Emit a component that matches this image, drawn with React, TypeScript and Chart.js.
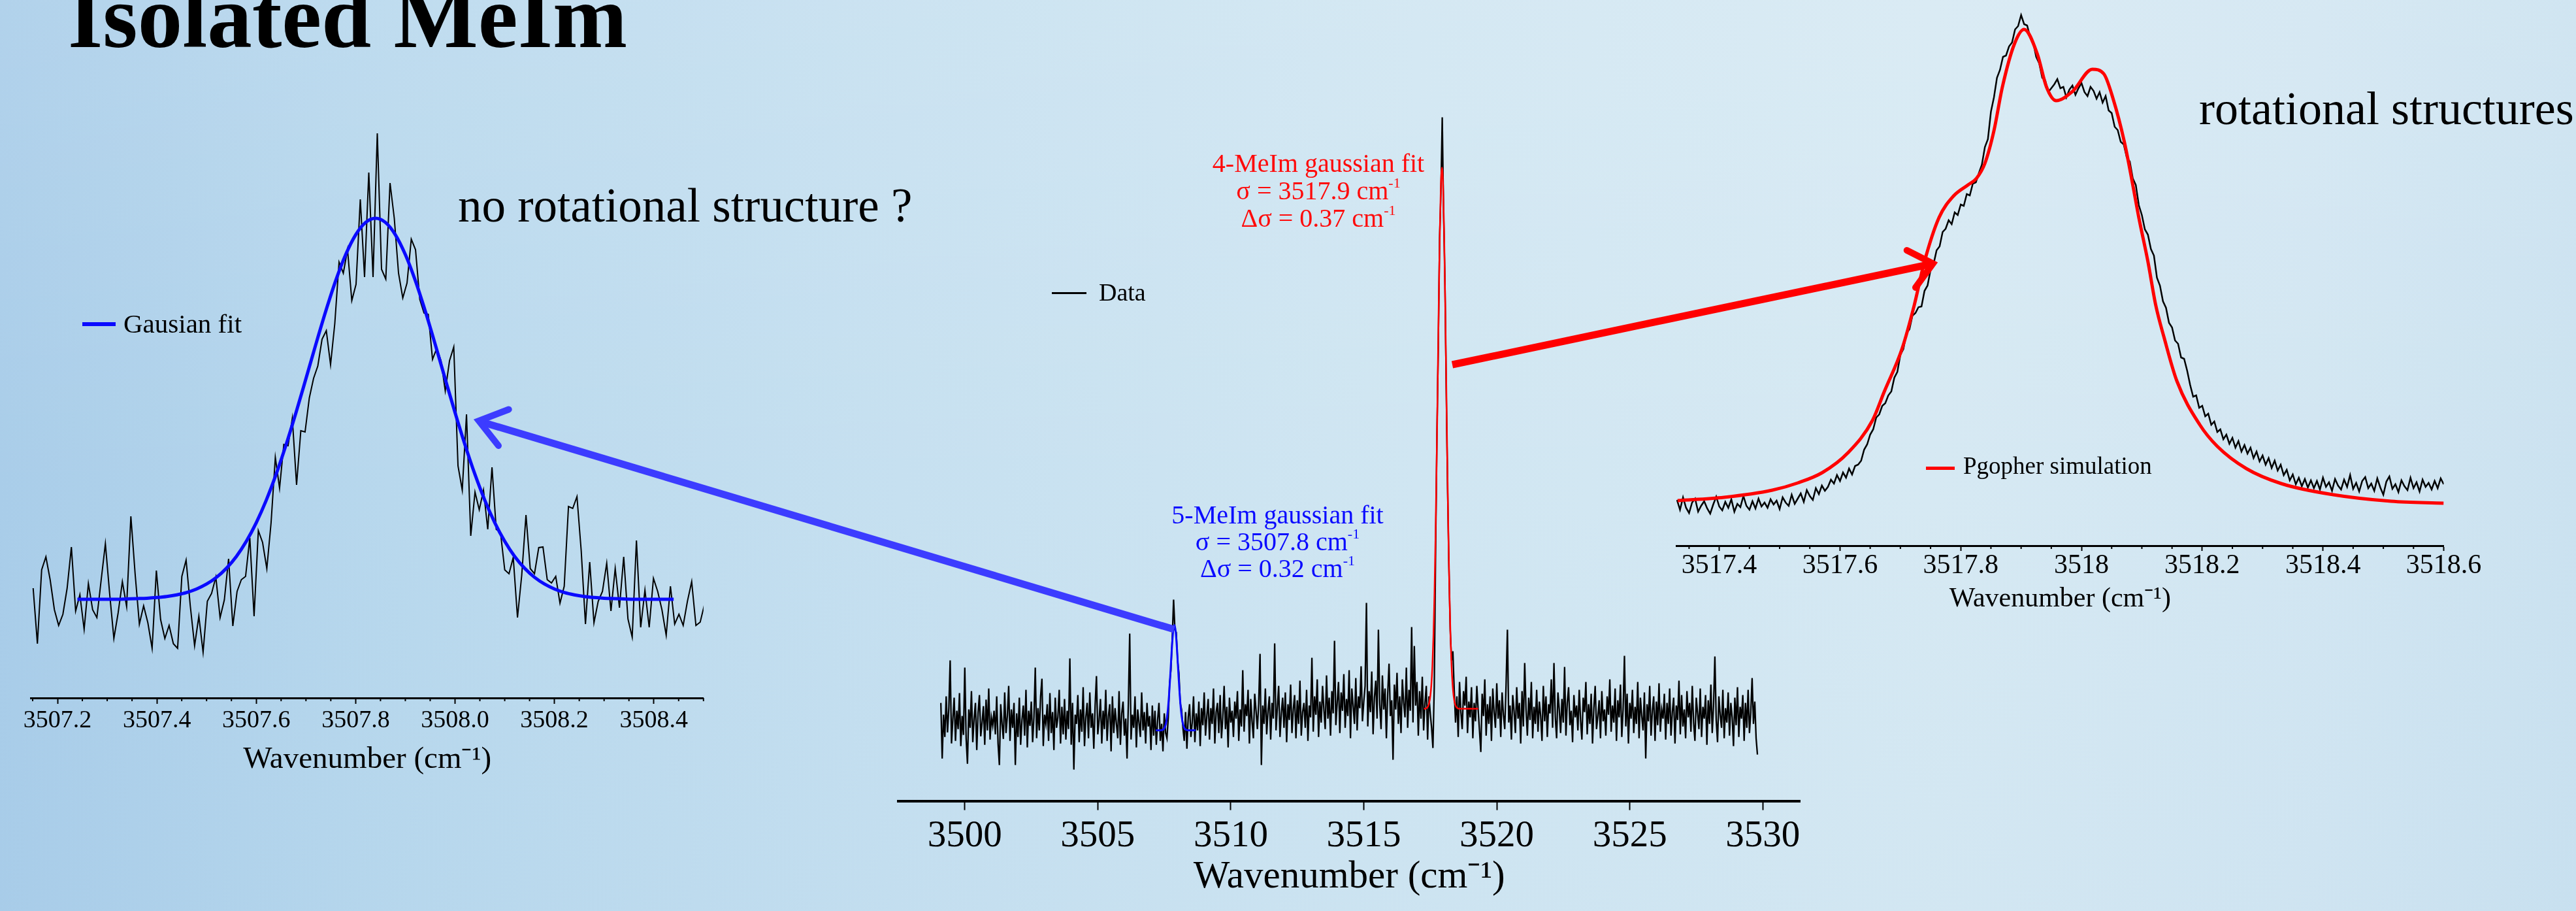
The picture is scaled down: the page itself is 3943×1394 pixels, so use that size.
import React, { useEffect, useRef } from 'react';
import { Chart, registerables } from 'chart.js';

Chart.register(...registerables);

const PAGE_W = 3943;
const PAGE_H = 1394;

// ---------------- left panel (5-MeIm zoom) ----------------
const LEFT_DATA_START = 3507.151;
const LEFT_DATA_STEP = 0.00855;
const LEFT_DATA = [
  168, 83, 196, 216, 181, 135, 111, 128, 168, 231, 133, 158, 105, 175, 135, 123, 180, 236, 160, 91,
  130, 178, 140, 278, 190, 113, 141, 115, 76, 195, 120, 91, 111, 83, 76, 186, 211, 140, 80, 125,
  70, 148, 160, 185, 123, 150, 213, 110, 163, 181, 186, 245, 125, 256, 238, 198, 268, 368,
  321, 388, 386, 428, 326, 409, 407, 459, 489, 508, 549, 562, 510, 573, 667, 650, 686, 608, 633, 763,
  644, 804, 644, 864, 656, 641, 788, 734, 650, 612, 635, 702, 686, 610, 589, 587, 518, 535, 516, 470,
  516, 537, 355,
  318, 434, 248, 315, 288, 318, 258, 353, 258, 253, 196, 190, 215, 123, 188, 280, 198, 190, 230, 231,
  181, 176, 186, 145, 171, 293, 290, 308, 225, 113, 208, 115, 148, 163, 206, 133, 198, 138, 216, 121,
  93, 241, 108, 165, 108, 183, 163, 135, 96, 171, 113, 128, 111, 148, 178, 111, 116, 143,
];
const LEFT_FIT_START = 3507.24;
const LEFT_FIT_STEP = 0.02;
const LEFT_FIT = [
  151, 151, 151, 151, 151,
  151.5, 152, 152.6, 153.7, 155.3, 157.8, 161.4, 166.8, 174.3, 184.6, 198.5, 216.6, 239.7, 268.2, 302.4,
  342.3, 387.5, 436.7, 488.7, 541.4, 592.2, 638.8, 678.4, 708.6, 727.6,
  734,
  727.6, 708.6, 678.4, 638.8, 592.2, 541.4, 488.7, 436.7, 387.5, 342.3, 302.4, 268.2, 239.7, 216.6, 198.5,
  184.6, 174.3, 166.8, 161.4, 157.8, 155.3, 153.7, 152.6, 152, 151.5,
  151, 151, 151, 151, 151,
];
const LEFT_TICKS = [3507.2, 3507.4, 3507.6, 3507.8, 3508.0, 3508.2, 3508.4];
const LEFT_TICK_LABELS = ['3507.2', '3507.4', '3507.6', '3507.8', '3508.0', '3508.2', '3508.4'];
const LEFT_MINOR = [
  3507.15, 3507.25, 3507.3, 3507.35, 3507.45, 3507.5, 3507.55, 3507.65, 3507.7, 3507.75, 3507.85,
  3507.9, 3507.95, 3508.05, 3508.1, 3508.15, 3508.25, 3508.3, 3508.35, 3508.45, 3508.5,
];

// ---------------- middle panel (full scan) ----------------
const MID_DATA_START = 3499.1;
const MID_DATA_STEP = 0.05;
const MID_DATA = [
  150, 65, 132, 98, 160, 105, 142, 215, 88, 125, 158, 92, 138, 110, 165, 84, 130, 101, 204, 96,
  57, 140, 112, 168, 90, 126, 150, 78, 135, 162, 99, 120, 145, 86, 155, 108, 172, 94, 128, 115,
  138, 102, 160, 88, 55, 148, 118, 95, 166, 104, 130, 176, 92, 140, 112, 150, 55, 134, 98, 158,
  86, 124, 146, 100, 170, 82, 138, 115, 152, 90, 128, 204, 96, 142, 108, 160, 187, 84, 132, 118,
  148, 92, 165, 104, 136, 78, 158, 112, 128, 170, 88, 144, 102, 156, 94, 138, 110, 218, 86, 150,
  48, 132, 118, 162, 90, 140, 106, 174, 84, 128, 150, 96, 166, 112, 134, 80, 146, 191, 102, 124,
  156, 88, 138, 110, 170, 92, 130, 148, 76, 160, 104, 142, 118, 96, 168, 86, 134, 152, 100, 126,
  65, 150, 256, 94, 132, 112, 160, 82, 140, 120, 98, 166, 108, 136, 88, 150, 114, 130, 78, 146,
  100, 138, 86, 124, 150, 92, 118, 76, 134, 104, 96, 128, 180, 200, 250, 308, 262, 258, 215, 196,
  150, 140, 112, 92, 136, 80, 128, 148, 98, 120, 160, 90, 134, 108, 152, 84, 142, 116, 166, 100,
  130, 156, 94, 142, 118, 172, 88, 136, 150, 104, 162, 96, 128, 176, 110, 144, 82, 158, 120, 138,
  98, 152, 126, 168, 92, 140, 114, 200, 106, 148, 130, 170, 88, 156, 122, 96, 164, 138, 110, 150,
  225, 55, 146, 118, 172, 102, 138, 160, 94, 150, 126, 241, 108, 142, 176, 98, 134, 158, 112, 166,
  90, 148, 124, 178, 104, 140, 162, 96, 154, 118, 184, 100, 136, 150, 112, 170, 92, 146, 128, 219,
  106, 160, 132, 186, 98, 152, 120, 176, 140, 110, 192, 126, 158, 100, 168, 134, 245, 116, 150, 182,
  104, 166, 138, 194, 112, 156, 130, 200, 96, 172, 146, 118, 188, 108, 160, 142, 206, 122, 152, 176,
  303, 114, 168, 136, 198, 102, 158, 184, 126, 262, 148, 110, 192, 140, 172, 96, 164, 210, 130, 154,
  63, 178, 140, 196, 118, 160, 104, 186, 150, 128, 204, 112, 170, 138, 266, 120, 237, 146, 182, 100,
  168, 126, 190, 108, 150, 176, 94, 160, 134, 112, 81, 175, 380, 560, 690, 860, 930, 1046, 900, 800,
  630, 480, 360, 262, 215, 229, 170, 120, 160, 98, 182, 136, 110, 168, 146, 190, 104, 152, 128, 174,
  96, 150, 122, 176, 140, 108, 75, 164, 130, 186, 100, 148, 118, 160, 92, 172, 136, 112, 180, 126,
  154, 98, 166, 132, 110, 178, 262, 120, 146, 94, 162, 138, 104, 174, 126, 150, 88, 168, 114, 211,
  140, 100, 158, 124, 182, 96, 144, 118, 170, 106, 152, 130, 92, 176, 122, 160, 98, 148, 134, 186,
  112, 211, 128, 96, 166, 140, 104, 156, 120, 205, 100, 150, 174, 116, 138, 90, 162, 128, 146, 108,
  170, 124, 94, 158, 136, 182, 102, 148, 118, 164, 88, 142, 176, 110, 130, 154, 96, 168, 122, 140,
  100, 160, 132, 186, 106, 146, 120, 172, 92, 154, 128, 178, 98, 140, 222, 114, 164, 88, 150, 126,
  170, 104, 144, 118, 182, 96, 158, 130, 108, 166, 65, 148, 122, 176, 100, 138, 160, 92, 152, 116,
  180, 106, 140, 126, 164, 94, 150, 118, 172, 100, 136, 158, 88, 146, 124, 184, 102, 162, 114, 140,
  96, 168, 128, 150, 106, 176, 120, 92, 158, 134, 110, 172, 98, 144, 126, 162, 86, 154, 118, 178,
  104, 146, 221, 124, 90, 160, 132, 112, 170, 96, 142, 120, 166, 100, 150, 128, 84, 158, 116, 174,
  98, 144, 126, 162, 92, 150, 112, 170, 104, 136, 188, 118, 152, 96, 71,
];
const MID_BLUE_START = 3507.18;
const MID_BLUE_STEP = 0.05;
const MID_BLUE_FIT = [
  108, 108, 108, 108,
  108.2, 108.7, 110.1, 113.9, 122.2, 137.7, 162.6, 195.6, 230.9, 258.5,
  269,
  258.5, 230.9, 195.6, 162.6, 137.7, 122.2, 113.9, 110.1, 108.7, 108.2, 108, 108, 108, 108, 108, 108,
];
const MID_RED_START = 3517.26;
const MID_RED_STEP = 0.04;
const MID_RED_FIT = [
  141, 141, 141.8, 142.8, 145.2, 150.2, 159.9, 177.4, 206.9, 253, 320.1, 409.8, 520, 643.2, 766, 871.7, 943.5,
  969,
  943.5, 871.7, 766, 643.2, 520, 409.8, 320.1, 253, 206.9, 177.4, 159.9, 150.2, 145.2, 142.8, 141.8,
  141, 141, 141, 141, 141, 141, 141, 141, 141, 141, 141, 141, 141, 141, 141, 141, 141, 141, 141,
];
const MID_TICKS = [3500, 3505, 3510, 3515, 3520, 3525, 3530];
const MID_TICK_LABELS = ['3500', '3505', '3510', '3515', '3520', '3525', '3530'];

// ---------------- right panel (4-MeIm zoom) ----------------
const RIGHT_DATA_START = 3517.33;
const RIGHT_DATA_STEP = 0.005;
const RIGHT_DATA = [
  70, 55, 74, 58, 50, 66, 72, 52, 61, 68,
  57, 49, 63, 75, 60, 54, 67, 58, 71, 52,
  64, 59, 76, 61, 55, 68, 57, 72, 60, 66,
  58, 71, 63, 69, 56, 74, 66, 61, 78, 64,
  72, 80, 67, 85, 76, 70, 88, 79, 92, 84,
  90, 101, 95, 108, 99, 112, 104, 118, 109, 122,
  124, 130, 147, 155, 170, 178, 196, 201, 214, 218,
  230, 236, 257, 266, 292, 301, 325, 331, 352, 356,
  365, 366, 390, 398, 422, 431, 452, 458, 480, 485,
  498, 492, 510, 506, 522, 520, 538, 536, 554, 556,
  570, 583, 610, 622, 664, 686, 716, 728, 748, 750,
  764, 770, 790, 795, 812, 798, 796, 778, 770, 748,
  738, 716, 712, 694, 700, 706, 714, 700, 702, 686,
  698, 704, 690, 700, 708, 694, 688, 702, 696, 684,
  694, 678, 688, 666, 662, 641, 636, 618, 614, 594,
  588, 562, 552, 521, 506, 484, 476, 454, 444, 410,
  398, 374, 364, 341, 334, 314, 309, 288, 286, 268,
  246, 228, 230, 211, 214, 198, 202, 185, 190, 174,
  178, 163, 170, 156, 165, 150, 160, 144, 154, 141,
  150, 134, 144, 129, 138, 124, 134, 119, 130, 115,
  124, 108, 116, 100, 109, 94, 104, 91, 102, 89,
  100, 88, 99, 86, 104, 90, 97, 84, 102, 92,
  86, 101, 90, 108, 87, 96, 83, 99, 105, 88,
  95, 84, 103, 89, 78, 98, 106, 87, 94, 82,
  100, 91, 85, 104, 88, 97, 83, 101, 90, 96,
  86, 99, 88, 103, 94,
];
const RIGHT_SIM_X = [
  3517.331, 3517.408, 3517.488, 3517.53, 3517.571, 3517.613, 3517.654, 3517.673, 3517.703, 3517.723,
  3517.74, 3517.764, 3517.788, 3517.812, 3517.826, 3517.84, 3517.855, 3517.869, 3517.889, 3517.905,
  3517.927, 3517.942, 3517.958, 3517.985, 3518.018, 3518.037, 3518.052, 3518.071, 3518.085, 3518.095,
  3518.11, 3518.123, 3518.137, 3518.158, 3518.196, 3518.225, 3518.273, 3518.331, 3518.417, 3518.513,
  3518.6,
];
const RIGHT_SIM_Y = [
  69, 74, 85, 96, 112, 142, 192, 235, 302, 368,
  435, 502, 535, 552, 562, 585, 635, 702, 768, 790,
  752, 702, 681, 695, 729, 722, 685, 618, 552, 502,
  435, 368, 318, 252, 185, 152, 118, 95, 78, 68,
  65,
];
const RIGHT_TICKS = [3517.4, 3517.6, 3517.8, 3518.0, 3518.2, 3518.4, 3518.6];
const RIGHT_TICK_LABELS = ['3517.4', '3517.6', '3517.8', '3518', '3518.2', '3518.4', '3518.6'];
const RIGHT_MINOR = [
  3517.35, 3517.45, 3517.5, 3517.55, 3517.65, 3517.7, 3517.75, 3517.85, 3517.9, 3517.95,
  3518.05, 3518.1, 3518.15, 3518.25, 3518.3, 3518.35, 3518.45, 3518.5, 3518.55,
];

const SERIF = '"Liberation Serif", "Times New Roman", serif';
const AXIS_TITLE = 'Wavenumber (cm\u207B\u00B9)';

function gridded(start: number, step: number, ys: number[]) {
  return ys.map((y, i) => ({ x: start + i * step, y }));
}
function paired(xs: number[], ys: number[]) {
  return xs.map((x, i) => ({ x, y: ys[i] }));
}

const minorTicksPlugin = {
  id: 'minorTicks',
  afterDraw(chart: any, _args: any, opts: any) {
    const vals: number[] = opts && opts.values ? opts.values : [];
    if (!vals.length) return;
    const s = chart.scales.x;
    const ctx = chart.ctx;
    ctx.save();
    ctx.strokeStyle = '#000';
    ctx.lineWidth = opts.width || 2;
    ctx.beginPath();
    for (const v of vals) {
      const px = s.getPixelForValue(v);
      ctx.moveTo(px, s.top);
      ctx.lineTo(px, s.top + opts.length);
    }
    ctx.stroke();
    ctx.restore();
  },
};

interface PanelSpec {
  left: number;
  right: number;
  axisY: number;
  axisBox: number;
  xMin: number;
  xMax: number;
  ticks: number[];
  tickLabels: string[];
  minor: number[];
  minorLen: number;
  tickLen: number;
  tickPad: number;
  tickFont: number;
  titleFont: number;
  axisWidth: number;
  tickWidth: number;
  datasets: any[];
}

function buildConfig(p: PanelSpec): any {
  return {
    type: 'line',
    data: { datasets: p.datasets },
    options: {
      responsive: false,
      animation: false,
      devicePixelRatio: 1,
      events: [],
      layout: {
        padding: {
          left: p.left,
          right: PAGE_W - p.right,
          top: 0,
          bottom: PAGE_H - p.axisY - p.axisBox,
        },
      },
      elements: { point: { radius: 0 } },
      plugins: {
        legend: { display: false },
        tooltip: { enabled: false },
        minorTicks: { values: p.minor, length: p.minorLen, width: p.tickWidth },
      },
      scales: {
        x: {
          type: 'linear',
          min: p.xMin,
          max: p.xMax,
          afterBuildTicks: (s: any) => {
            s.ticks = p.ticks.map((v) => ({ value: v }));
          },
          afterFit: (s: any) => {
            s.height = p.axisBox;
          },
          ticks: {
            autoSkip: false,
            maxRotation: 0,
            minRotation: 0,
            includeBounds: false,
            padding: p.tickPad,
            color: '#000',
            font: { family: SERIF, size: p.tickFont },
            callback: (_v: any, i: number) => p.tickLabels[i],
          },
          grid: {
            display: true,
            drawOnChartArea: false,
            drawTicks: true,
            tickLength: p.tickLen,
            tickWidth: p.tickWidth,
            tickColor: '#000',
          },
          border: { display: true, color: '#000', width: p.axisWidth },
          title: {
            display: true,
            text: AXIS_TITLE,
            color: '#000',
            font: { family: SERIF, size: p.titleFont },
            padding: { top: 0, bottom: 0 },
          },
        },
        y: { type: 'linear', display: false, min: 0, max: p.axisY },
      },
    },
    plugins: [minorTicksPlugin],
  };
}

const LEFT_SPEC: PanelSpec = {
  left: 47.7,
  right: 1076.8,
  axisY: 1068,
  axisBox: 123,
  xMin: 3507.147,
  xMax: 3508.5,
  ticks: LEFT_TICKS,
  tickLabels: LEFT_TICK_LABELS,
  minor: LEFT_MINOR,
  minorLen: 5,
  tickLen: 9,
  tickPad: 3,
  tickFont: 38,
  titleFont: 47,
  axisWidth: 3,
  tickWidth: 2,
  datasets: [
    {
      label: 'Gausian fit',
      data: gridded(LEFT_FIT_START, LEFT_FIT_STEP, LEFT_FIT),
      borderColor: '#0a0aff',
      borderWidth: 5,
      cubicInterpolationMode: 'monotone',
      order: 0,
    },
    {
      label: 'Data',
      data: gridded(LEFT_DATA_START, LEFT_DATA_STEP, LEFT_DATA),
      borderColor: '#000',
      borderWidth: 2,
      tension: 0,
      order: 1,
    },
  ],
};

const MID_SPEC: PanelSpec = {
  left: 1375,
  right: 2755.6,
  axisY: 1225.6,
  axisBox: 152,
  xMin: 3497.5,
  xMax: 3531.41,
  ticks: MID_TICKS,
  tickLabels: MID_TICK_LABELS,
  minor: [],
  minorLen: 0,
  tickLen: 14,
  tickPad: 6,
  tickFont: 57,
  titleFont: 59,
  axisWidth: 4,
  tickWidth: 2,
  datasets: [
    {
      label: '5-MeIm gaussian fit',
      data: gridded(MID_BLUE_START, MID_BLUE_STEP, MID_BLUE_FIT),
      borderColor: '#0a0aff',
      borderWidth: 3,
      cubicInterpolationMode: 'monotone',
      order: 0,
    },
    {
      label: '4-MeIm gaussian fit',
      data: gridded(MID_RED_START, MID_RED_STEP, MID_RED_FIT),
      borderColor: '#ff0000',
      borderWidth: 2.5,
      cubicInterpolationMode: 'monotone',
      order: 0,
    },
    {
      label: 'Data',
      data: gridded(MID_DATA_START, MID_DATA_STEP, MID_DATA),
      borderColor: '#000',
      borderWidth: 2.3,
      tension: 0,
      order: 1,
    },
  ],
};

const RIGHT_SPEC: PanelSpec = {
  left: 2566,
  right: 3740.5,
  axisY: 835,
  axisBox: 107,
  xMin: 3517.329,
  xMax: 3518.6,
  ticks: RIGHT_TICKS,
  tickLabels: RIGHT_TICK_LABELS,
  minor: RIGHT_MINOR,
  minorLen: 5,
  tickLen: 8,
  tickPad: -2,
  tickFont: 42,
  titleFont: 42,
  axisWidth: 3,
  tickWidth: 2,
  datasets: [
    {
      label: 'Pgopher simulation',
      data: paired(RIGHT_SIM_X, RIGHT_SIM_Y),
      borderColor: '#ff0000',
      borderWidth: 5,
      cubicInterpolationMode: 'monotone',
      order: 0,
    },
    {
      label: 'Data',
      data: gridded(RIGHT_DATA_START, RIGHT_DATA_STEP, RIGHT_DATA),
      borderColor: '#000',
      borderWidth: 2.5,
      tension: 0,
      order: 1,
    },
  ],
};

function Panel({ spec }: { spec: PanelSpec }) {
  const ref = useRef<HTMLCanvasElement | null>(null);
  useEffect(() => {
    if (!ref.current) return;
    const chart = new Chart(ref.current, buildConfig(spec));
    return () => chart.destroy();
  }, [spec]);
  return (
    <canvas
      ref={ref}
      width={PAGE_W}
      height={PAGE_H}
      style={{ position: 'absolute', left: 0, top: 0, width: PAGE_W, height: PAGE_H }}
    />
  );
}

const sup = (t: string) => (
  <span style={{ fontSize: '0.55em', verticalAlign: '0.8em', lineHeight: 0 }}>{t}</span>
);

function Text(props: {
  left: number;
  top: number;
  size: number;
  color?: string;
  bold?: boolean;
  children: React.ReactNode;
}) {
  return (
    <div
      style={{
        position: 'absolute',
        left: props.left,
        top: props.top,
        fontSize: props.size,
        lineHeight: 1,
        color: props.color || '#000',
        fontWeight: props.bold ? 'bold' : 'normal',
        whiteSpace: 'nowrap',
      }}
    >
      {props.children}
    </div>
  );
}

function LegendLine(props: { left: number; width: number; y: number; thick: number; color: string }) {
  return (
    <div
      style={{
        position: 'absolute',
        left: props.left,
        top: props.y - props.thick / 2,
        width: props.width,
        height: props.thick,
        background: props.color,
      }}
    />
  );
}

export default function App() {
  return (
    <div
      style={{
        position: 'absolute',
        left: 0,
        top: 0,
        width: PAGE_W,
        height: PAGE_H,
        overflow: 'hidden',
        fontFamily: SERIF,
        background:
          'linear-gradient(180deg, rgba(255,255,255,0.10) 0%, rgba(255,255,255,0) 55%, rgba(150,190,225,0.06) 100%), linear-gradient(90deg, #a9cde9 0%, #b8d8ed 15%, #c6e0f0 35%, #d0e6f2 55%, #d6e9f3 75%, #d2e6f2 90%, #cbe2f0 100%)',
      }}
    >
      <Text left={104} top={-41.7} size={137} bold>
        Isolated MeIm
      </Text>
      <Text left={701} top={278.3} size={73}>
        no rotational structure ?
      </Text>
      <Text left={3366} top={130.4} size={72}>
        rotational structures
      </Text>

      <Panel spec={LEFT_SPEC} />
      <Panel spec={MID_SPEC} />
      <Panel spec={RIGHT_SPEC} />

      {/* legends */}
      <LegendLine left={126} width={51} y={496} thick={6} color="#0a0aff" />
      <Text left={189} top={475.4} size={41}>
        Gausian fit
      </Text>
      <LegendLine left={1610} width={53} y={448} thick={3} color="#000" />
      <Text left={1682} top={428.2} size={38}>
        Data
      </Text>
      <LegendLine left={2948} width={44} y={716} thick={5} color="#ff0000" />
      <Text left={3005} top={694} size={37}>
        Pgopher simulation
      </Text>

      {/* fit annotations */}
      <div
        style={{
          position: 'absolute',
          left: 1768,
          top: 228.5,
          width: 500,
          textAlign: 'center',
          fontSize: 40,
          lineHeight: '42px',
          color: '#ff0a0a',
          whiteSpace: 'nowrap',
        }}
      >
        <div>4-MeIm gaussian fit</div>
        <div>σ = 3517.9 cm{sup('-1')}</div>
        <div>Δσ = 0.37 cm{sup('-1')}</div>
      </div>
      <div
        style={{
          position: 'absolute',
          left: 1705.5,
          top: 766.5,
          width: 500,
          textAlign: 'center',
          fontSize: 40,
          lineHeight: '41px',
          color: '#0a0aff',
          whiteSpace: 'nowrap',
        }}
      >
        <div>5-MeIm gaussian fit</div>
        <div>σ = 3507.8 cm{sup('-1')}</div>
        <div>Δσ = 0.32 cm{sup('-1')}</div>
      </div>

      {/* arrows */}
      <svg
        width={PAGE_W}
        height={PAGE_H}
        style={{ position: 'absolute', left: 0, top: 0, pointerEvents: 'none' }}
      >
        <line x1={1797} y1={963} x2={735} y2={645} stroke="#3c3cff" strokeWidth={11} />
        <polyline
          points="778.7,626.5 733,644 763,682"
          fill="none"
          stroke="#3c3cff"
          strokeWidth={10}
          strokeLinejoin="miter"
          strokeLinecap="round"
        />
        <line x1={2223} y1={558} x2={2956} y2={404} stroke="#ff0000" strokeWidth={11} />
        <polyline
          points="2918.7,383 2958.7,403.3 2932,440"
          fill="none"
          stroke="#ff0000"
          strokeWidth={10}
          strokeLinejoin="miter"
          strokeLinecap="round"
        />
      </svg>
    </div>
  );
}
